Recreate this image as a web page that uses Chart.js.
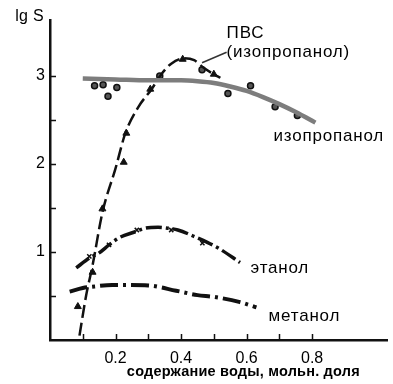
<!DOCTYPE html>
<html>
<head>
<meta charset="utf-8">
<script src="https://cdn.jsdelivr.net/npm/chart.js@4.4.1/dist/chart.umd.min.js"></script>
<style>
    html, body { margin: 0; padding: 0; background: #fff; }
    #wrap { width: 393px; height: 384px; }
</style>
</head>
<body>
<div id="wrap"><canvas id="chart" width="393" height="384"></canvas></div>
<script>
// isopropanol: smooth gray curve and circles
const isoLineX = [0.1, 0.2, 0.3, 0.4, 0.45, 0.5, 0.55, 0.6, 0.65, 0.7, 0.75, 0.81];
const isoLineY = [2.97, 2.96, 2.95, 2.95, 2.94, 2.92, 2.88, 2.83, 2.76, 2.68, 2.59, 2.47];
const isoPointsX = [0.136, 0.162, 0.177, 0.204, 0.335, 0.464, 0.543, 0.612, 0.687, 0.755];
const isoPointsY = [2.89, 2.90, 2.77, 2.87, 3.0, 3.07, 2.8, 2.89, 2.65, 2.55];

// ПВС (изопропанол): dashed curve and triangles
const pvsLineX = [0.09, 0.11, 0.13, 0.16, 0.2, 0.23, 0.27, 0.31, 0.34, 0.37, 0.41, 0.44, 0.47, 0.5, 0.52];
const pvsLineY = [0.05, 0.5, 0.85, 1.45, 1.95, 2.35, 2.65, 2.85, 3.02, 3.14, 3.2, 3.18, 3.09, 3.02, 2.98];
const pvsPointsX = [0.085, 0.13, 0.16, 0.225, 0.233, 0.306, 0.405, 0.5];
const pvsPointsY = [0.38, 0.77, 1.49, 2.02, 2.35, 2.85, 3.19, 3.02];

// ethanol
const ethLineX = [0.08, 0.12, 0.15, 0.18, 0.21, 0.26, 0.29, 0.33, 0.36, 0.39, 0.45, 0.48, 0.52, 0.58];
const ethLineY = [0.82, 0.93, 0.99, 1.08, 1.16, 1.23, 1.27, 1.28, 1.27, 1.25, 1.16, 1.11, 1.03, 0.88];
const ethPointsX = [0.12, 0.18, 0.265, 0.37, 0.465];
const ethPointsY = [0.95, 1.08, 1.25, 1.25, 1.1];

// methanol
const metLineX = [0.06, 0.1, 0.14, 0.19, 0.24, 0.3, 0.385, 0.45, 0.5, 0.58, 0.63];
const metLineY = [0.55, 0.59, 0.61, 0.625, 0.625, 0.62, 0.56, 0.51, 0.49, 0.43, 0.37];

// leader line to the ПВС label
const leaderX = [0.464, 0.539];
const leaderY = [3.15, 3.27];

// axis ticks
const xTicks = [0.1, 0.2, 0.3, 0.4, 0.5, 0.6, 0.7, 0.8];
const xTickLabels = ['', '0.2', '', '0.4', '', '0.6', '', '0.8'];
const yTicks = [0.5, 1, 1.5, 2, 2.5, 3];
const yTickLabels = ['', '1', '', '2', '', '3'];

const xTitle = 'содержание воды, мольн. доля';
const yTitle = 'lg S';

function pts(xs, ys) {
    return xs.map(function (x, i) { return { x: x, y: ys[i] }; });
}

function labelFor(values, labels, v) {
    for (let i = 0; i < values.length; i++) {
        if (Math.abs(values[i] - v) < 1e-6) return labels[i];
    }
    return '';
}

const FONT = '"Liberation Sans", Arial, sans-serif';

// text placed in data units
const notes = [
    { text: 'ПВС', x: 0.539, y: 3.49, size: 17, spacing: 0.8, align: 'left' },
    { text: '(изопропанол)', x: 0.539, y: 3.27, size: 17, spacing: 0.8, align: 'left' },
    { text: 'изопропанол', x: 0.682, y: 2.31, size: 17, spacing: 0.8, align: 'left' },
    { text: 'этанол', x: 0.612, y: 0.81, size: 17, spacing: 0.8, align: 'left' },
    { text: 'метанол', x: 0.667, y: 0.27, size: 17, spacing: 0.8, align: 'left' },
    { text: xTitle, x: 0.59, y: -0.36, size: 14.5, spacing: 0.2, align: 'center', bold: true },
    { text: yTitle, x: -0.106, y: 3.67, size: 16, spacing: 0.3, align: 'left' },
];

const extras = {
    id: 'extras',
    afterDraw: function (chart) {
        const ctx = chart.ctx;
        const xs = chart.scales.x;
        const ys = chart.scales.y;
        const area = chart.chartArea;
        ctx.save();
        ctx.strokeStyle = '#111';
        ctx.lineWidth = 1.5;
        ctx.beginPath();
        xTicks.forEach(function (v) {
            const px = Math.round(xs.getPixelForValue(v)) + 0.5;
            ctx.moveTo(px, area.bottom);
            ctx.lineTo(px, area.bottom - 6);
        });
        yTicks.forEach(function (v) {
            const py = Math.round(ys.getPixelForValue(v)) + 0.5;
            ctx.moveTo(area.left, py);
            ctx.lineTo(area.left + 6, py);
        });
        ctx.stroke();

        ctx.fillStyle = '#000';
        ctx.textBaseline = 'middle';
        notes.forEach(function (n) {
            ctx.font = (n.bold ? 'bold ' : '') + n.size + 'px ' + FONT;
            ctx.letterSpacing = (n.spacing || 0) + 'px';
            ctx.textAlign = n.align;
            ctx.fillText(n.text, xs.getPixelForValue(n.x), ys.getPixelForValue(n.y));
        });
        ctx.restore();
    }
};

new Chart(document.getElementById('chart'), {
    type: 'scatter',
    data: {
        datasets: [
            {
                data: pts(isoLineX, isoLineY),
                showLine: true,
                borderColor: '#7d7d7d',
                borderWidth: 4.5,
                pointRadius: 0,
                cubicInterpolationMode: 'monotone',
            },
            {
                data: pts(pvsLineX, pvsLineY),
                showLine: true,
                borderColor: '#111',
                borderWidth: 2.5,
                borderDash: [13, 5],
                pointRadius: 0,
                cubicInterpolationMode: 'monotone',
            },
            {
                data: pts(ethLineX, ethLineY),
                showLine: true,
                borderColor: '#111',
                borderWidth: 3.5,
                borderDash: [16, 4, 3, 4],
                pointRadius: 0,
                cubicInterpolationMode: 'monotone',
            },
            {
                data: pts(metLineX, metLineY),
                showLine: true,
                borderColor: '#111',
                borderWidth: 4,
                borderDash: [18, 5, 3, 5],
                pointRadius: 0,
                cubicInterpolationMode: 'monotone',
            },
            {
                data: pts(leaderX, leaderY),
                showLine: true,
                borderColor: '#333',
                borderWidth: 1.5,
                pointRadius: 0,
            },
            {
                data: pts(isoPointsX, isoPointsY),
                pointStyle: 'circle',
                pointRadius: 3,
                backgroundColor: '#555',
                borderColor: '#111',
                borderWidth: 1.5,
            },
            {
                data: pts(pvsPointsX, pvsPointsY),
                pointStyle: 'triangle',
                pointRadius: 4,
                backgroundColor: '#111',
                borderColor: '#111',
                borderWidth: 1,
            },
            {
                data: pts(ethPointsX, ethPointsY),
                pointStyle: 'crossRot',
                pointRadius: 3,
                borderColor: '#111',
                borderWidth: 1.5,
            },
        ],
    },
    options: {
        responsive: false,
        animation: false,
        layout: { padding: { top: 20, right: 3, left: 0, bottom: 0 } },
        plugins: {
            legend: { display: false },
            tooltip: { enabled: false },
        },
        scales: {
            x: {
                type: 'linear',
                min: 0,
                max: 1.03,
                afterFit: function (s) { s.height = 44; },
                afterBuildTicks: function (s) {
                    s.ticks = xTicks.map(function (v) { return { value: v }; });
                },
                grid: { drawOnChartArea: false, drawTicks: false },
                border: { color: '#111', width: 2.5 },
                ticks: {
                    padding: 9,
                    color: '#000',
                    font: { family: FONT, size: 16 },
                    maxRotation: 0,
                    autoSkip: false,
                    callback: function (v) { return labelFor(xTicks, xTickLabels, v); },
                },
            },
            y: {
                type: 'linear',
                min: 0,
                max: 3.636,
                afterFit: function (s) { s.width = 50; },
                afterBuildTicks: function (s) {
                    s.ticks = yTicks.map(function (v) { return { value: v }; });
                },
                grid: { drawOnChartArea: false, drawTicks: false },
                border: { color: '#111', width: 2.5 },
                ticks: {
                    padding: 5,
                    color: '#000',
                    font: { family: FONT, size: 16 },
                    autoSkip: false,
                    callback: function (v) { return labelFor(yTicks, yTickLabels, v); },
                },
            },
        },
    },
    plugins: [extras],
});
</script>
</body>
</html>
